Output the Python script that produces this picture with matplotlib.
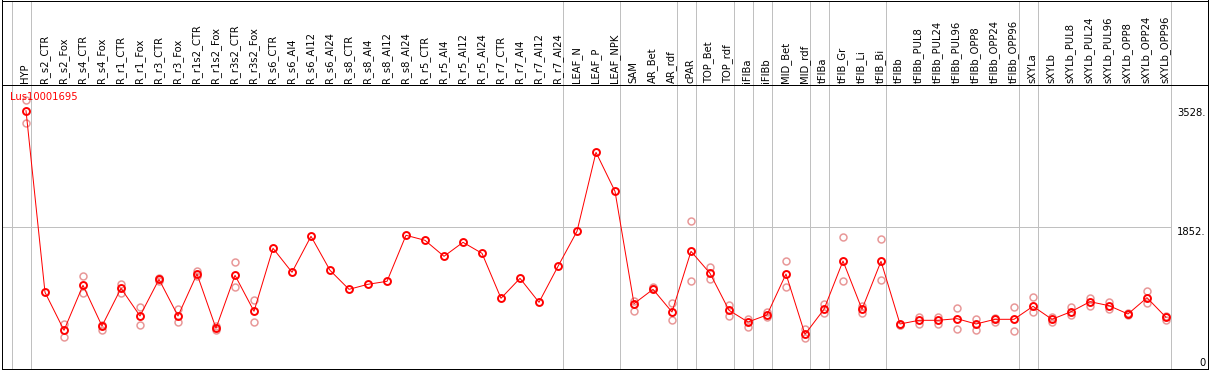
import matplotlib
matplotlib.use("Agg")
import matplotlib.pyplot as plt
from matplotlib.lines import Line2D
import numpy as np

# sample names along the x axis
categories = ["HYP",
              "R_s2_CTR", "R_s2_Fox", "R_s4_CTR", "R_s4_Fox", "R_r1_CTR", "R_r1_Fox",
              "R_r3_CTR", "R_r3_Fox", "R_r1s2_CTR", "R_r1s2_Fox", "R_r3s2_CTR", "R_r3s2_Fox",
              "R_s6_CTR", "R_s6_Al4", "R_s6_Al12", "R_s6_Al24",
              "R_s8_CTR", "R_s8_Al4", "R_s8_Al12", "R_s8_Al24",
              "R_r5_CTR", "R_r5_Al4", "R_r5_Al12", "R_r5_Al24",
              "R_r7_CTR", "R_r7_Al4", "R_r7_Al12", "R_r7_Al24",
              "LEAF_N", "LEAF_P", "LEAF_NPK",
              "SAM", "AR_Bet", "AR_rdf", "cPAR", "TOP_Bet", "TOP_rdf",
              "iFIBa", "iFIBb", "MID_Bet", "MID_rdf", "tFIBa",
              "tFIB_Gr", "tFIB_Li", "tFIB_Bi",
              "tFIBb", "tFIBb_PUL8", "tFIBb_PUL24", "tFIBb_PUL96",
              "tFIBb_OPP8", "tFIBb_OPP24", "tFIBb_OPP96",
              "sXYLa", "sXYLb", "sXYLb_PUL8", "sXYLb_PUL24", "sXYLb_PUL96",
              "sXYLb_OPP8", "sXYLb_OPP24", "sXYLb_OPP96"]

# mean expression per sample
mean_vals = [3486,
             929, 394, 1028, 455, 986, 596, 1112, 596, 1187, 422, 1169, 662,
             1549, 1211, 1718, 1239, 971, 1042, 1084, 1732,
             1661, 1436, 1633, 1478, 845, 1126, 788, 1295,
             1788, 2900, 2351,
             769, 971, 652, 1506, 1197, 676,
             511, 610, 1187, 338, 690,
             1370, 690, 1366,
             483, 535, 535, 558, 483, 549, 549,
             732, 549, 656, 797, 741, 624, 853, 577]

# individual replicates (empty where none shows)
rep_vals = [[3636, 3318],
            [], [483, 296], [1154, 915], [398, 473], [1050, 915], [722, 465],
            [1130, 1093], [694, 507], [1225, 1159], [398, 455], [1352, 1000], [817, 507],
            [], [], [], [], [], [], [], [],
            [], [], [], [], [], [], [], [],
            [], [], [],
            [811, 670], [1008, 986], [779, 535], [1929, 1084], [1285, 1121], [755, 596],
            [558, 445], [652, 577], [1370, 1000], [408, 282], [769, 642],
            [1708, 1084], [741, 642], [1680, 1098],
            [473, 469], [581, 483], [581, 483], [708, 408], [553, 394], [563, 515], [718, 380],
            [859, 656], [577, 511], [718, 610], [853, 741], [797, 694], [634, 605],
            [943, 774], [600, 535]]

# last sample index of each group (separator drawn after it)
group_ends = [-1, 0, 28, 31, 34, 35, 37, 38, 39, 41, 42, 45, 52, 53, 60]

y_ticks = [0, 1852, 3528]
y_tick_labels = ["0", "1852.", "3528."]
gene_name = "Lus10001695"

W, H = 1209, 370
fig = plt.figure(figsize=(W / 100, H / 100), dpi=100)
px = 0.72  # one pixel in points

# plot region in pixels
left, right, top, bottom = 1.5, 1207.5, 84.5, 368.5
ax = fig.add_axes([left / W, (H - bottom) / H, (right - left) / W, (bottom - top) / H])
x = np.arange(len(categories))
ax.set_xlim(-(26 - left) / 19, -(26 - left) / 19 + (right - left) / 19)
ax.set_ylim(-143.6, 3855)
ax.set_xticks([])
ax.set_yticks([])
for s in ax.spines.values():
    s.set_linewidth(px)
    s.set_color("black")

grey = "#c0c0c0"
ext = 1 + (top - 0.5) / (bottom - top)
ax.vlines(np.array(group_ends) + 0.24, 0, ext, colors=grey, lw=px,
          transform=ax.get_xaxis_transform(), clip_on=False, zorder=1)
ax.hlines(1852, ax.get_xlim()[0], group_ends[-1] + 0.24, colors=grey, lw=px, zorder=1)

# replicate points
for i, reps in enumerate(rep_vals):
    if reps:
        ax.plot([i] * len(reps), reps, "o", ms=5, mfc="none", mec="#e89898",
                mew=1.1, zorder=2)

ax.plot(x, mean_vals, "-", color="red", lw=px, zorder=3)
ax.plot(x, mean_vals, "o", ms=5, mfc="none", mec="red", mew=1.4, zorder=4)

ax.text(-0.84, 3679, gene_name, color="red", fontsize=7.2, ha="left", va="center")

for v, lab in zip(y_ticks, y_tick_labels):
    ax.text(1 - 2 / (right - left), v, lab, transform=ax.get_yaxis_transform(),
            ha="right", va="top", fontsize=7.2)

for i, name in enumerate(categories):
    ax.text(i - 0.05, 1 + 1.5 / (bottom - top), name, transform=ax.get_xaxis_transform(),
            rotation=90, ha="center", va="bottom", fontsize=7.2)

# outer frame above the plot
fig.add_artist(Line2D([left / W, left / W], [(H - bottom) / H, 1], color="black", lw=px))
fig.add_artist(Line2D([right / W, right / W], [(H - bottom) / H, 1], color="black", lw=px))
fig.add_artist(Line2D([left / W, right / W], [(H - 0.5) / H, (H - 0.5) / H], color="black", lw=px))

fig.savefig("out.png", dpi=100)
